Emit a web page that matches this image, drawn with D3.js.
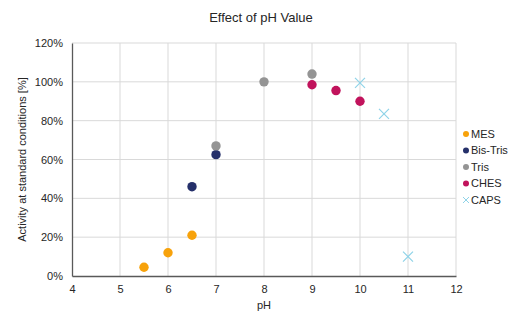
<!DOCTYPE html>
<html>
<head>
<meta charset="utf-8">
<script src="https://cdn.jsdelivr.net/npm/d3@7"></script>
<style>
  body { margin: 0; background: #fff; }
  text { font-family: "Liberation Sans", Arial, sans-serif; fill: #262626; }
</style>
</head>
<body>
<div id="chart"></div>
<script>
// buffer series: pH -> relative activity (%)
const series = ['MES', 'Bis-Tris', 'Tris', 'CHES', 'CAPS']
const colors = ['#f7a20b', '#25306a', '#949494', '#c1135c', '#8fd3e8']
const mesPH = [5.5, 6, 6.5]
const mesAct = [4.5, 12, 21]
const bisTrisPH = [6.5, 7]
const bisTrisAct = [46, 62.5]
const trisPH = [7, 8, 9]
const trisAct = [67, 100, 104]
const chesPH = [9, 9.5, 10]
const chesAct = [98.5, 95.5, 90]
const capsPH = [10, 10.5, 11]
const capsAct = [99.5, 83.5, 10]
const xTicks = [4, 5, 6, 7, 8, 9, 10, 11, 12]
const yTicks = [0, 20, 40, 60, 80, 100, 120]

const width = 518, height = 324
const margin = {left: 72, right: 62, top: 43, bottom: 48}

const svg = d3.select('#chart').append('svg')
  .attr('width', width)
  .attr('height', height)

const x = d3.scaleLinear().domain([4, 12]).range([margin.left, width - margin.right])
const y = d3.scaleLinear().domain([0, 120]).range([height - margin.bottom, margin.top])

// grid
svg.append('g').selectAll('line')
  .data(yTicks.slice(1))
  .enter().append('line')
  .attr('x1', x(4)).attr('x2', x(12))
  .attr('y1', d => y(d)).attr('y2', d => y(d))
  .attr('stroke', '#d9d9d9')
svg.append('g').selectAll('line')
  .data(xTicks.slice(1))
  .enter().append('line')
  .attr('x1', d => x(d)).attr('x2', d => x(d))
  .attr('y1', y(0)).attr('y2', y(120))
  .attr('stroke', '#d9d9d9')

// axes
const xAxis = svg.append('g')
  .attr('transform', `translate(0,${y(0)})`)
  .call(d3.axisBottom(x).tickValues(xTicks).tickSize(0).tickPadding(9))
const yAxis = svg.append('g')
  .attr('transform', `translate(${x(4)},0)`)
  .call(d3.axisLeft(y).tickValues(yTicks).tickSize(0).tickPadding(9).tickFormat(d => d + '%'))
;[xAxis, yAxis].forEach(g => {
  g.select('.domain').attr('stroke', '#595959').attr('stroke-width', 1.3)
  g.selectAll('text').attr('font-size', 11).attr('fill', '#262626')
    .attr('font-family', '"Liberation Sans", Arial, sans-serif')
})

// points
const data = [
  mesPH.map((p, i) => ({s: 0, p, v: mesAct[i]})),
  bisTrisPH.map((p, i) => ({s: 1, p, v: bisTrisAct[i]})),
  trisPH.map((p, i) => ({s: 2, p, v: trisAct[i]})),
  chesPH.map((p, i) => ({s: 3, p, v: chesAct[i]})),
  capsPH.map((p, i) => ({s: 4, p, v: capsAct[i]}))
]
const dots = data.slice(0, 4).flat()
svg.append('g').selectAll('circle')
  .data(dots)
  .enter().append('circle')
  .attr('cx', d => x(d.p))
  .attr('cy', d => y(d.v))
  .attr('r', 4.7)
  .attr('fill', d => colors[d.s])

const cross = 5
const crosses = svg.append('g').selectAll('g')
  .data(data[4])
  .enter().append('g')
  .attr('transform', d => `translate(${x(d.p)},${y(d.v)})`)
crosses.append('path')
  .attr('d', `M${-cross},${-cross}L${cross},${cross}M${-cross},${cross}L${cross},${-cross}`)
  .attr('stroke', colors[4])
  .attr('stroke-width', 1.2)
  .attr('fill', 'none')

// legend
const legend = svg.append('g').selectAll('g')
  .data(series)
  .enter().append('g')
  .attr('transform', (d, i) => `translate(466,${134 + i * 16.5})`)
legend.filter((d, i) => i < 4).append('circle')
  .attr('r', 3)
  .attr('fill', (d, i) => colors[i])
legend.filter((d, i) => i === 4).append('path')
  .attr('d', 'M-3,-3L3,3M-3,3L3,-3')
  .attr('stroke', colors[4])
  .attr('stroke-width', 1)
legend.append('text')
  .attr('x', 5)
  .attr('dy', '0.35em')
  .attr('font-size', 11)
  .text(d => d)

// titles
svg.append('text')
  .attr('x', 261).attr('y', 22)
  .attr('text-anchor', 'middle')
  .attr('font-size', 13)
  .text('Effect of pH Value')
svg.append('text')
  .attr('x', (x(4) + x(12)) / 2).attr('y', 309)
  .attr('text-anchor', 'middle')
  .attr('font-size', 11)
  .text('pH')
svg.append('text')
  .attr('transform', `translate(26,${(y(0) + y(120)) / 2}) rotate(-90)`)
  .attr('text-anchor', 'middle')
  .attr('font-size', 11)
  .text('Activity at standard conditions [%]')
</script>
</body>
</html>
